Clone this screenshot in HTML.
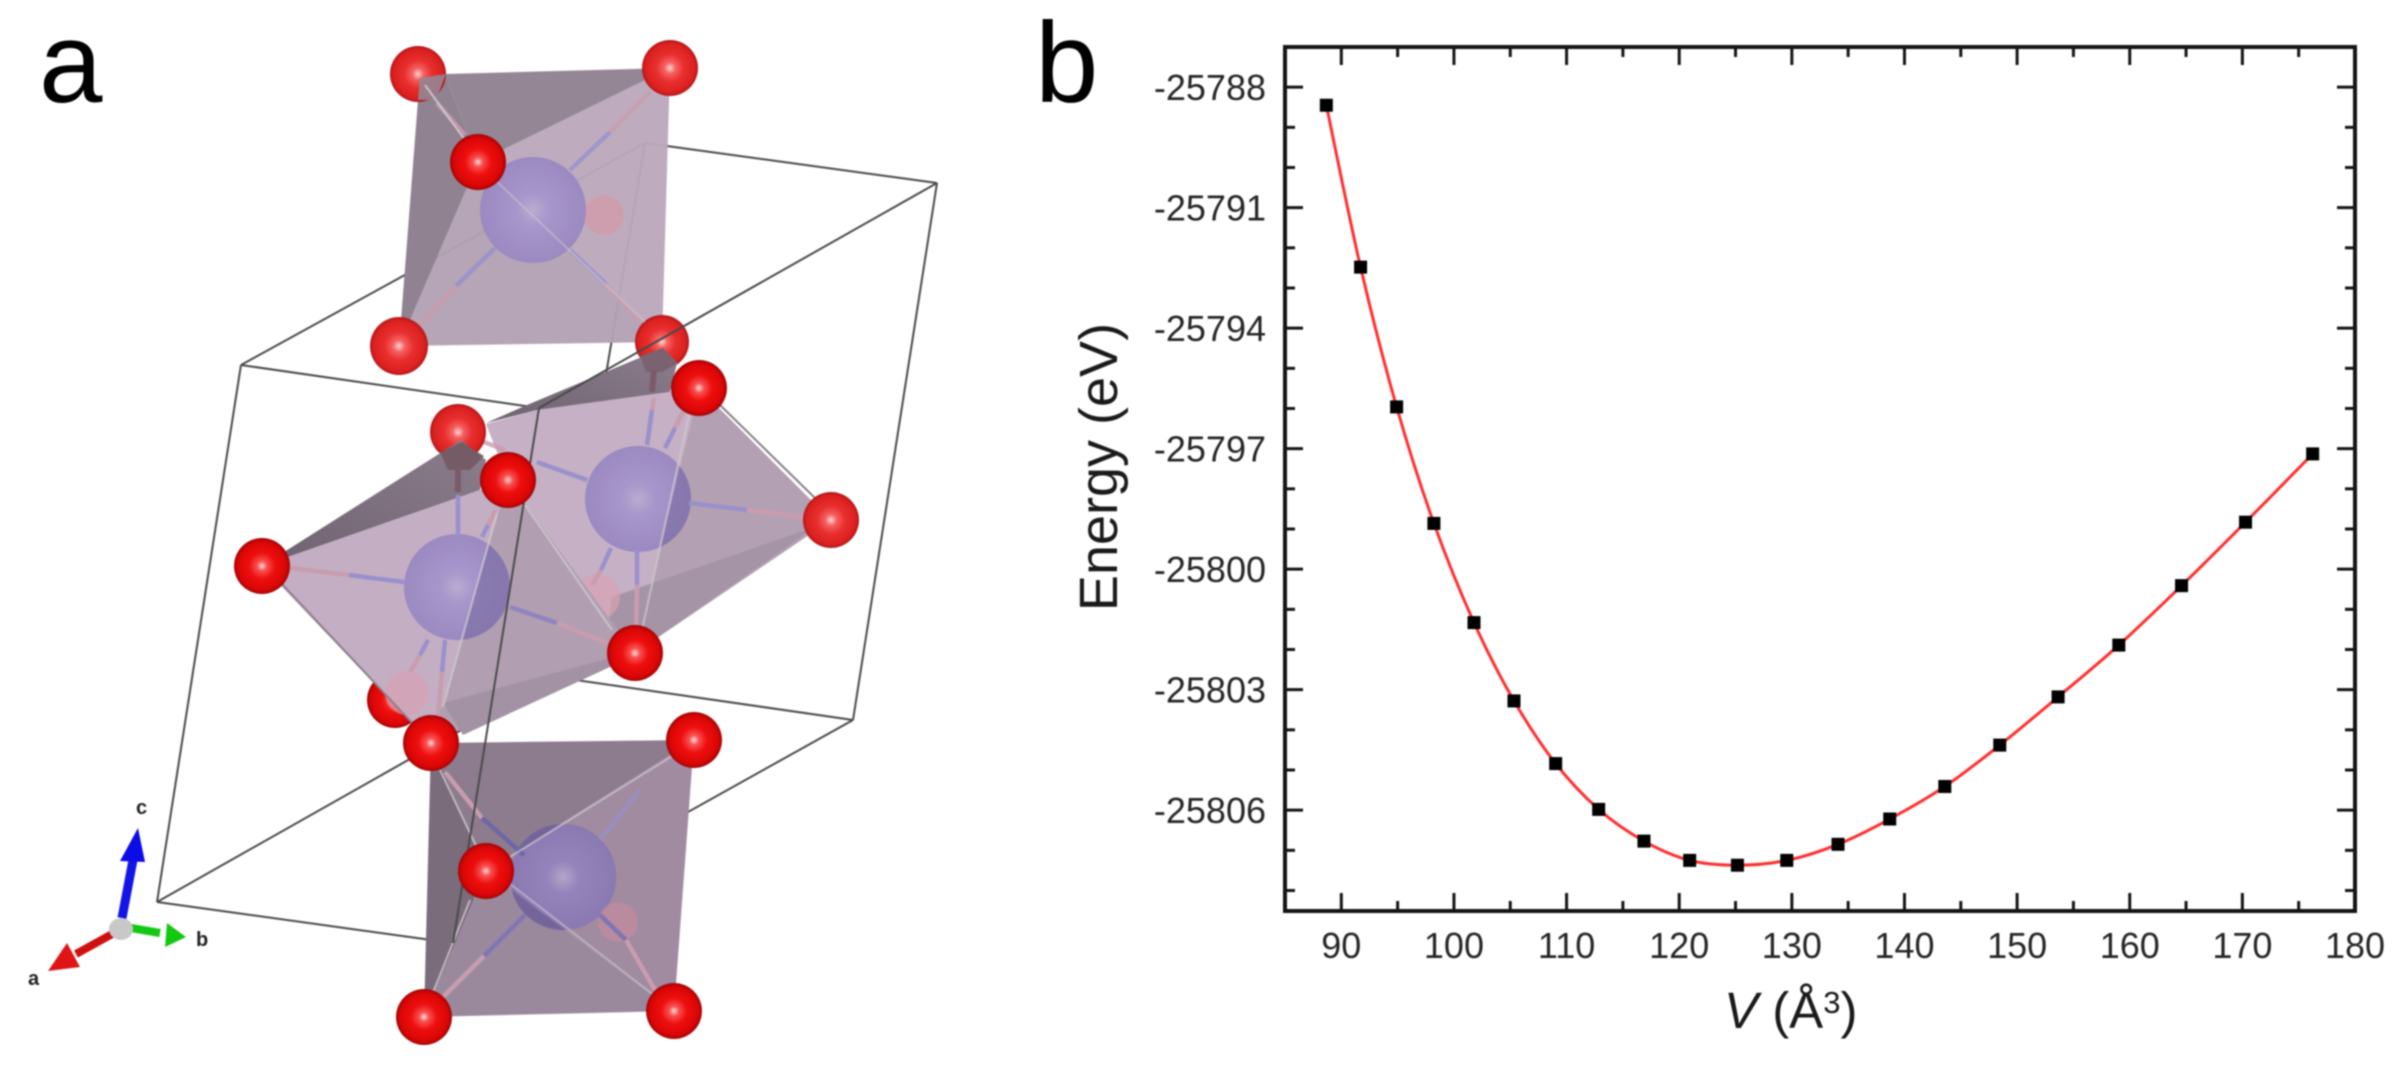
<!DOCTYPE html>
<html lang="en">
<head>
<meta charset="utf-8">
<title>Crystal structure and energy-volume curve</title>
<style>
  html,body{margin:0;padding:0;background:#fff;width:2397px;height:1075px;overflow:hidden}
  svg{display:block;filter:blur(.9px)}
  text{font-family:"Liberation Sans",sans-serif}
  .cell{stroke:#4a4a4a;stroke-width:2;fill:none}
  .edge{stroke:#cfc8cf;stroke-width:2;fill:none}
  .bp{stroke:#9a90cc;stroke-width:4.5}
  .br{stroke:#c99cae;stroke-width:4.5}
</style>
</head>
<body>
<svg id="figure" xmlns="http://www.w3.org/2000/svg" width="2397" height="1075" viewBox="0 0 2397 1075">
  <defs>
    <radialGradient id="red" cx=".5" cy=".5" r=".52">
      <stop offset="0" stop-color="#ffd4d4"/><stop offset=".2" stop-color="#f56060"/>
      <stop offset=".48" stop-color="#e82e2e"/><stop offset=".84" stop-color="#dc2020"/>
      <stop offset="1" stop-color="#a01418"/>
    </radialGradient>
    <radialGradient id="redDeep" cx=".5" cy=".5" r=".52">
      <stop offset="0" stop-color="#ffdcdc"/><stop offset=".17" stop-color="#f85050"/>
      <stop offset=".45" stop-color="#ee0e0e"/><stop offset=".82" stop-color="#da0606"/>
      <stop offset="1" stop-color="#900408"/>
    </radialGradient>
    <radialGradient id="purple" cx=".5" cy=".5" r=".52">
      <stop offset="0" stop-color="#b9acd0"/><stop offset=".3" stop-color="#a796cb"/>
      <stop offset="1" stop-color="#9a88c0"/>
    </radialGradient>
    <radialGradient id="purpleDim" cx=".5" cy=".5" r=".52">
      <stop offset="0" stop-color="#b3a5c8"/><stop offset=".3" stop-color="#9482bb"/>
      <stop offset="1" stop-color="#8a78b0"/>
    </radialGradient>
    <linearGradient id="darkFace" x1="0" y1="1" x2="1" y2="0">
      <stop offset="0" stop-color="#6f6270"/><stop offset="1" stop-color="#8b7d8c"/>
    </linearGradient>
    <clipPath id="clipMidR"><polygon points="699,388 831,520 635,653"/></clipPath>
    <clipPath id="clipMidL"><polygon points="508,480 635,653 431,743"/></clipPath>
    <clipPath id="clipLow"><polygon points="486,871 694,740 674,1011"/></clipPath>
  </defs>

  <rect width="2397" height="1075" fill="#fff"/>

  <g id="panel-a">
    <text x="39" y="102" font-size="114" fill="#000">a</text>

    <g class="cell">
      <line x1="241" y1="365" x2="645" y2="143"/>
      <line x1="645" y1="143" x2="937" y2="183"/>
      <line x1="645" y1="143" x2="555" y2="677"/>
      <line x1="157" y1="902" x2="555" y2="677"/>
      <line x1="555" y1="677" x2="853" y2="720"/>
      <line x1="453" y1="943" x2="853" y2="720"/>
      <line x1="937" y1="183" x2="853" y2="720"/>
      <line x1="241" y1="365" x2="157" y2="902"/>
      <line x1="241" y1="365" x2="539" y2="408"/>
      <line x1="157" y1="902" x2="453" y2="943"/>
    </g>

    <!-- top octahedron -->
    <g>
      <polygon points="445,74 670,68 478,162" fill="#948695"/>
      <polygon points="445,74 478,162 399,346 418,100" fill="#908290"/>
      <polygon points="478,162 670,68 662,342" fill="#bba9bb" opacity=".96"/>
      <polygon points="478,162 662,342 399,346" fill="#b2a1b3" opacity=".96"/>
      <circle cx="418" cy="74" r="28" fill="url(#red)"/>
      <circle cx="670" cy="68" r="28" fill="url(#red)"/>
      <circle cx="399" cy="346" r="29" fill="url(#red)"/>
      <circle cx="662" cy="342" r="27" fill="url(#red)"/>
      <polygon points="420,78 446,74 436,100 418,100" fill="#948695" opacity=".9"/>
      <circle cx="604" cy="215" r="20" fill="#e58f9c" opacity=".45"/>
      <circle cx="533" cy="210" r="53" fill="url(#purple)"/>
      <line class="br" x1="437" y1="103" x2="465" y2="135" opacity=".8"/>
      <line class="bp" x1="570" y1="170" x2="610" y2="132" opacity=".8"/>
      <line class="br" x1="610" y1="132" x2="650" y2="92" opacity=".8"/>
      <line class="bp" x1="495" y1="248" x2="456" y2="286" opacity=".85"/>
      <line class="br" x1="456" y1="286" x2="420" y2="325" opacity=".8"/>
      <line class="bp" x1="570" y1="250" x2="606" y2="284" opacity=".8"/>
      <line class="br" x1="606" y1="284" x2="640" y2="322" opacity=".8"/>
      <line class="edge" x1="425" y1="85" x2="465" y2="140" opacity=".9"/>
      <line class="edge" x1="490" y1="175" x2="645" y2="322" opacity=".5"/>
      <circle cx="478" cy="162" r="28" fill="url(#redDeep)"/>
    </g>

    <!-- lower octahedron -->
    <g>
      <polygon points="431,743 694,740 486,871" fill="#8c7c8d"/>
      <polygon points="431,743 486,871 424,1017" fill="#7a6c7b"/>
      <polygon points="486,871 694,740 674,1011" fill="#a08ba0"/>
      <polygon points="486,871 674,1011 424,1017" fill="#9a899c"/>
      <circle cx="563" cy="877" r="53" fill="#73659a"/>
      <circle cx="563" cy="877" r="53" fill="url(#purpleDim)" clip-path="url(#clipLow)"/>
      <circle cx="618" cy="922" r="20" fill="#d08b9c" opacity=".55"/>
      <line class="br" x1="445" y1="772" x2="482" y2="818"/>
      <line class="bp" x1="482" y1="818" x2="524" y2="855" style="stroke:#6f66a8"/>
      <line class="bp" x1="525" y1="915" x2="484" y2="956" style="stroke:#7f75b5"/>
      <line class="br" x1="484" y1="956" x2="440" y2="1000"/>
      <line class="bp" x1="600" y1="915" x2="626" y2="940" style="stroke:#7f75b5"/>
      <line class="br" x1="626" y1="940" x2="655" y2="990"/>
      <line class="bp" x1="600" y1="840" x2="640" y2="790" opacity=".7"/>
      <line class="edge" x1="505" y1="860" x2="690" y2="745" opacity=".7"/>
      <line class="edge" x1="505" y1="880" x2="660" y2="1000" opacity=".6"/>
      <line class="edge" x1="440" y1="770" x2="478" y2="850" opacity=".8"/>
      <line class="edge" x1="470" y1="900" x2="432" y2="995" opacity=".8"/>
      <circle cx="694" cy="740" r="28" fill="url(#redDeep)"/>
      <circle cx="424" cy="1017" r="28" fill="url(#redDeep)"/>
      <circle cx="674" cy="1011" r="28" fill="url(#redDeep)"/>
    </g>

    <!-- middle right octahedron -->
    <g>
      <polygon points="486,423 527,405 663,348 677,363 670,392 537,410" fill="url(#darkFace)"/>
      <polygon points="640,356 663,348 678,363 662,372 646,372" fill="#7a6270"/>
      <line x1="654" y1="370" x2="652" y2="392" stroke="#7a5c68" stroke-width="6"/>
      <polygon points="486,424 537,410 699,388 635,653 508,480" fill="#c5b0c5"/>
      <polygon points="699,388 831,520 635,653" fill="#b3a0b3"/>
      <polygon points="815,527 612,597 605,650 635,653" fill="#a594a6"/>
      <circle cx="597" cy="597" r="23" fill="#d9a3b4" opacity=".7"/>
      <circle cx="638" cy="499" r="53" fill="url(#purple)"/>
      <circle cx="638" cy="499" r="53" fill="#7e6fa5" opacity=".7" clip-path="url(#clipMidR)"/>
      <line class="bp" x1="689" y1="503" x2="747" y2="510"/>
      <line class="br" x1="747" y1="510" x2="810" y2="518"/>
      <line class="bp" x1="587" y1="480" x2="537" y2="462"/>
      <line class="br" x1="484" y1="442" x2="505" y2="450" opacity=".8"/>
      <line class="bp" x1="637" y1="550" x2="637" y2="585"/>
      <line class="br" x1="637" y1="585" x2="636" y2="630"/>
      <line class="bp" x1="611" y1="548" x2="601" y2="570"/>
      <line class="br" x1="601" y1="570" x2="592" y2="585"/>
      <line class="bp" x1="647" y1="445" x2="652" y2="410"/>
      <line class="br" x1="652" y1="410" x2="654" y2="398"/>
      <line class="bp" x1="665" y1="448" x2="675" y2="428"/>
      <line class="br" x1="675" y1="428" x2="685" y2="408"/>
      <line class="edge" x1="690" y1="410" x2="642" y2="630" opacity=".75"/>
      <line x1="720" y1="405" x2="815" y2="498" stroke="#8c808c" stroke-width="2"/>
    </g>

    <!-- middle left octahedron -->
    <g>
      <circle cx="458" cy="432" r="28" fill="url(#red)"/>
      <circle cx="395" cy="700" r="28" fill="url(#redDeep)"/>
      <polygon points="262,566 461,440 486,460 480,490" fill="url(#darkFace)"/>
      <polygon points="440,452 462,442 484,456 470,470 448,470" fill="#72565f" opacity=".85"/>
      <line x1="458" y1="468" x2="458" y2="492" stroke="#7a5c68" stroke-width="6"/>
      <polygon points="262,566 480,490 508,480 431,743" fill="#c3aec3"/>
      <polygon points="508,480 635,653 431,743" fill="#b19fb1"/>
      <polygon points="443,703 610,658 625,660 463,735" fill="#a292a4"/>
      <circle cx="407" cy="693" r="22" fill="#d9a0b0" opacity=".65"/>
      <circle cx="457" cy="587" r="53" fill="url(#purple)"/>
      <circle cx="457" cy="587" r="53" fill="#7e6fa5" opacity=".7" clip-path="url(#clipMidL)"/>
      <line class="bp" x1="404" y1="582" x2="349" y2="575"/>
      <line class="br" x1="349" y1="575" x2="290" y2="568"/>
      <line class="bp" x1="510" y1="607" x2="557" y2="623" style="stroke:#8f84c0"/>
      <line class="br" x1="557" y1="623" x2="607" y2="643"/>
      <line class="bp" x1="458" y1="537" x2="458" y2="495"/>
      <line class="bp" x1="482" y1="537" x2="488" y2="525"/>
      <line class="br" x1="488" y1="525" x2="496" y2="510"/>
      <line class="bp" x1="428" y1="640" x2="420" y2="655"/>
      <line class="br" x1="420" y1="655" x2="410" y2="672"/>
      <line class="bp" x1="445" y1="640" x2="442" y2="672"/>
      <line class="br" x1="442" y1="672" x2="438" y2="715"/>
      <line class="edge" x1="497" y1="513" x2="443" y2="707" opacity=".8"/>
      <line class="edge" x1="525" y1="505" x2="612" y2="630" opacity=".8"/>
      <line x1="282" y1="584" x2="415" y2="726" stroke="#8c808c" stroke-width="2"/>
    </g>

    <g class="cell">
      <line x1="539" y1="408" x2="453" y2="943"/>
      <line x1="539" y1="408" x2="937" y2="183"/>
    </g>

    <g>
      <circle cx="699" cy="388" r="28" fill="url(#redDeep)"/>
      <circle cx="831" cy="520" r="28" fill="url(#red)"/>
      <circle cx="635" cy="653" r="28" fill="url(#redDeep)"/>
      <circle cx="508" cy="480" r="28" fill="url(#redDeep)"/>
      <circle cx="262" cy="566" r="28" fill="url(#redDeep)"/>
      <circle cx="431" cy="743" r="28" fill="url(#redDeep)"/>
      <circle cx="486" cy="871" r="28" fill="url(#redDeep)"/>
    </g>

    <g>
      <line x1="122" y1="918" x2="133" y2="860" stroke="#1414e6" stroke-width="9"/>
      <polygon points="138,828 120,861 145,862" fill="#0c0ce6"/>
      <line x1="114" y1="933" x2="76" y2="954" stroke="#d01010" stroke-width="8"/>
      <polygon points="48,971 67,943 80,967" fill="#e01414"/>
      <line x1="131" y1="928" x2="160" y2="933" stroke="#12c812" stroke-width="8"/>
      <polygon points="186,937 167,923 165,947" fill="#12c812"/>
      <ellipse cx="121" cy="929" rx="12" ry="11" fill="#c8c8c8"/>
      <text x="136" y="814" font-size="20" font-weight="bold" fill="#222">c</text>
      <text x="28" y="985" font-size="20" font-weight="bold" fill="#222">a</text>
      <text x="196" y="946" font-size="20" font-weight="bold" fill="#222">b</text>
    </g>
  </g>

  <g id="panel-b">
    <text x="1035" y="102" font-size="114" fill="#000">b</text>
    <g id="chart"></g>
    <text transform="translate(1117,467) rotate(-90)" text-anchor="middle" font-size="54" fill="#1a1a1a">Energy (eV)</text>
    <text x="1724" y="1028" font-size="51" fill="#1a1a1a"><tspan font-style="italic">V</tspan> (Å<tspan font-size="31" dy="-15">3</tspan><tspan dy="15">)</tspan></text>
  </g>
</svg>

<script>
const volumes = [88.67, 91.71, 94.91, 98.22, 101.78, 105.33, 109.03, 112.85, 116.87, 120.93, 125.17, 129.55, 134.1, 138.69, 143.58, 148.46, 153.64, 159.03, 164.6, 170.28, 176.24];
const energies = [-25788.45, -25792.48, -25795.96, -25798.86, -25801.33, -25803.28, -25804.84, -25805.98, -25806.77, -25807.25, -25807.37, -25807.25, -25806.85, -25806.22, -25805.41, -25804.38, -25803.18, -25801.89, -25800.41, -25798.83, -25797.13];
const xMajorTicks = [90, 100, 110, 120, 130, 140, 150, 160, 170, 180];
const xMinorTicks = [95, 105, 115, 125, 135, 145, 155, 165, 175];
const yMajorTicks = [-25788, -25791, -25794, -25797, -25800, -25803, -25806];
const yMinorTicks = [-25789, -25790, -25792, -25793, -25795, -25796, -25798, -25799, -25801, -25802, -25804, -25805, -25807, -25808];
const xDomain = [85, 180];
const yDomain = [-25808.51, -25787];

const plot = { left: 1285, right: 2355, top: 47, bottom: 911 };
const xScale = v => plot.left + (v - xDomain[0]) / (xDomain[1] - xDomain[0]) * (plot.right - plot.left);
const yScale = e => plot.bottom - (e - yDomain[0]) / (yDomain[1] - yDomain[0]) * (plot.bottom - plot.top);

const chart = document.getElementById('chart');
const NS = 'http://www.w3.org/2000/svg';
function mk(tag) {
  const el = document.createElementNS(NS, tag);
  chart.appendChild(el);
  return el;
}
function segment(x1, y1, x2, y2, w) {
  const l = mk('line');
  l.setAttribute('x1', x1);
  l.setAttribute('y1', y1);
  l.setAttribute('x2', x2);
  l.setAttribute('y2', y2);
  l.setAttribute('stroke', '#141414');
  l.setAttribute('stroke-width', w);
  return l;
}

const MAJOR = 18, MINOR = 10, TW = 3;

xMajorTicks.forEach(v => {
  const x = xScale(v);
  const b = segment(x, plot.bottom, x, plot.bottom - MAJOR, TW);
  
  
  const t = segment(x, plot.top, x, plot.top + MAJOR, TW);
  
  
  const label = mk('text');
  label.textContent = String(v);
  label.setAttribute('x', x);
  label.setAttribute('y', 958);
  label.setAttribute('text-anchor', 'middle');
  label.setAttribute('font-size', '36');
  label.setAttribute('fill', '#262626');
  
  
});
xMinorTicks.forEach(v => {
  const x = xScale(v);
  const b = segment(x, plot.bottom, x, plot.bottom - MINOR, TW);
  
  
  const t = segment(x, plot.top, x, plot.top + MINOR, TW);
  
  
});
yMajorTicks.forEach(e => {
  const y = yScale(e);
  const l = segment(plot.left, y, plot.left + MAJOR, y, TW);
  
  
  const r = segment(plot.right, y, plot.right - MAJOR, y, TW);
  
  
  const label = mk('text');
  label.textContent = String(e);
  label.setAttribute('x', 1266);
  label.setAttribute('y', y + 13);
  label.setAttribute('text-anchor', 'end');
  label.setAttribute('font-size', '36');
  label.setAttribute('fill', '#262626');
  
  
});
yMinorTicks.forEach(e => {
  const y = yScale(e);
  const l = segment(plot.left, y, plot.left + MINOR, y, TW);
  
  
  const r = segment(plot.right, y, plot.right - MINOR, y, TW);
  
  
});

const frame = mk('rect');
frame.setAttribute('x', plot.left);
frame.setAttribute('y', plot.top);
frame.setAttribute('width', plot.right - plot.left);
frame.setAttribute('height', plot.bottom - plot.top);
frame.setAttribute('fill', 'none');
frame.setAttribute('stroke', '#141414');
frame.setAttribute('stroke-width', '4');



/* Smooth red fit line running through every data point */
const pts = volumes.map((v, i) => [xScale(v), yScale(energies[i])]);
let d = 'M' + pts[0][0] + ' ' + pts[0][1];
for (let i = 0; i < pts.length - 1; i++) {
  const p0 = pts[Math.max(i - 1, 0)], p1 = pts[i], p2 = pts[i + 1], p3 = pts[Math.min(i + 2, pts.length - 1)];
  const c1x = p1[0] + (p2[0] - p0[0]) / 6, c1y = p1[1] + (p2[1] - p0[1]) / 6;
  const c2x = p2[0] - (p3[0] - p1[0]) / 6, c2y = p2[1] - (p3[1] - p1[1]) / 6;
  d += ' C' + c1x + ' ' + c1y + ' ' + c2x + ' ' + c2y + ' ' + p2[0] + ' ' + p2[1];
}
const curve = mk('path');
curve.setAttribute('d', d);
curve.setAttribute('fill', 'none');
curve.setAttribute('stroke', '#ff3030');
curve.setAttribute('stroke-width', '3');



const SIZE = 13;
volumes.forEach((v, i) => {
  const m = mk('rect');
  m.setAttribute('x', xScale(v) - SIZE / 2);
  m.setAttribute('y', yScale(energies[i]) - SIZE / 2);
  m.setAttribute('width', SIZE);
  m.setAttribute('height', SIZE);
  m.setAttribute('fill', '#000');
  
  
});
</script>
</body>
</html>
